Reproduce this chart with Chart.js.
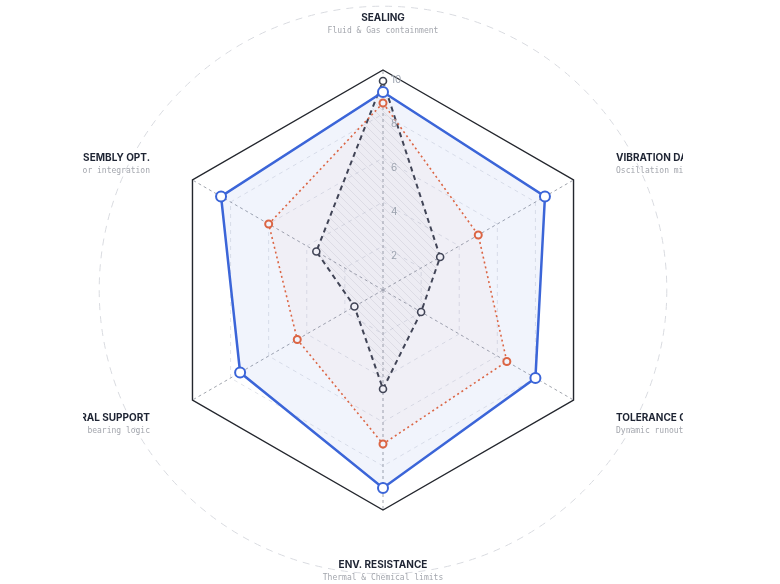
<!DOCTYPE html>
<html>
<head>
<meta charset="utf-8">
<script src="https://cdn.jsdelivr.net/npm/chart.js"></script>
<style>
  html, body { margin: 0; padding: 0; background: #fff; }
  #wrap { width: 780px; height: 584px; position: relative; }
</style>
</head>
<body>
<div id="wrap"><canvas id="radar"></canvas></div>
<script>
const categories = ["SEALING", "VIBRATION DAMPING", "TOLERANCE CONTROL", "ENV. RESISTANCE", "STRUCTURAL SUPPORT", "ASSEMBLY OPT."];
const subtitles = ["Fluid & Gas containment", "Oscillation mitigation", "Dynamic runout limits", "Thermal & Chemical limits", "Load bearing logic", "Sensor integration"];
const tickValues = [2, 4, 6, 8, 10];

const targetValues = [9, 8.5, 8, 9, 7.5, 8.5];
const currentValues = [8.5, 5, 6.5, 7, 4.5, 6];
const baselineValues = [9.5, 3, 2, 4.5, 1.5, 3.5];

// diagonal hatch for the baseline polygon
function makeHatch() {
  const c = document.createElement("canvas");
  c.width = 8; c.height = 8;
  const g = c.getContext("2d");
  g.fillStyle = "rgba(120,120,140,0.03)";
  g.fillRect(0, 0, 8, 8);
  g.strokeStyle = "rgba(150,150,165,0.25)";
  g.lineWidth = 0.7;
  g.beginPath();
  g.moveTo(0, 0); g.lineTo(8, 8);
  g.moveTo(-4, 4); g.lineTo(4, 12);
  g.moveTo(4, -4); g.lineTo(12, 4);
  g.stroke();
  return g.createPattern(c, "repeat");
}

const decor = {
  id: "decor",
  beforeDatasetsDraw(chart) {
    const s = chart.scales.r, ctx = chart.ctx;
    ctx.save();
    ctx.strokeStyle = "#d9dbe0";
    ctx.lineWidth = 1;
    ctx.setLineDash([7, 6]);
    ctx.beginPath();
    ctx.arc(s.xCenter, s.yCenter, s.drawingArea * 1.29, 0, Math.PI * 2);
    ctx.stroke();
    ctx.restore();
  },
  afterDatasetsDraw(chart) {
    const s = chart.scales.r, ctx = chart.ctx;
    ctx.save();
    // tick labels
    ctx.font = "10px Inter";
    ctx.fillStyle = "#9ca3af";
    ctx.textAlign = "left";
    ctx.textBaseline = "middle";
    tickValues.forEach(v => {
      const d = s.getDistanceFromCenterForValue(v);
      ctx.fillText(String(v), s.xCenter + 8, s.yCenter - d + 10);
    });
    // axis labels, clipped like the original
    ctx.beginPath();
    ctx.rect(83, 0, 600, chart.height);
    ctx.clip();
    categories.forEach((name, i) => {
      const p = s.getPointPosition(i, s.drawingArea * 1.2);
      let align = "center", x = p.x, y;
      if (i === 0) y = p.y - 8;
      else if (i === 3) y = p.y + 11;
      else {
        align = p.x > s.xCenter ? "left" : "right";
        x = s.xCenter + (p.x > s.xCenter ? 233 : -233);
        y = p.y < s.yCenter ? p.y : p.y - 4;
      }
      ctx.textAlign = align;
      ctx.font = "bold 10px Inter";
      ctx.fillStyle = "#1e2433";
      ctx.fillText(name, x, y);
      ctx.font = "8px 'DejaVu Sans Mono'";
      ctx.fillStyle = "#a3a6ad";
      ctx.fillText(subtitles[i], x, y + 13);
    });
    ctx.restore();
  }
};

new Chart(document.getElementById("radar"), {
  type: "radar",
  data: {
    labels: categories,
    datasets: [
      {
        label: "Target",
        data: targetValues,
        borderColor: "#3b65d8",
        backgroundColor: "rgba(59,101,216,0.07)",
        borderWidth: 2.5,
        fill: true,
        pointRadius: 5,
        pointBorderWidth: 2,
        pointBackgroundColor: "#fff",
        pointBorderColor: "#3b65d8"
      },
      {
        label: "Current",
        data: currentValues,
        borderColor: "#e8663a",
        backgroundColor: "rgba(232,102,58,0.03)",
        borderWidth: 1.6,
        borderDash: [2, 3],
        fill: true,
        pointRadius: 3.5,
        pointBorderWidth: 2,
        pointBackgroundColor: "#fff",
        pointBorderColor: "#e8663a"
      },
      {
        label: "Baseline",
        data: baselineValues,
        borderColor: "#3d424e",
        backgroundColor: makeHatch(),
        borderWidth: 2,
        borderDash: [5, 4],
        fill: true,
        pointRadius: 3.5,
        pointBorderWidth: 1.6,
        pointBackgroundColor: "#fff",
        pointBorderColor: "#3d424e"
      }
    ]
  },
  options: {
    responsive: true,
    maintainAspectRatio: false,
    animation: false,
    layout: { padding: { left: 163, right: 177, top: 70, bottom: 74 } },
    plugins: { legend: { display: false }, tooltip: { enabled: false } },
    elements: { line: { tension: 0 } },
    scales: {
      r: {
        min: 0,
        max: 10,
        ticks: { stepSize: 2, display: false },
        pointLabels: { display: false },
        angleLines: { color: "#a1a5ad", lineWidth: 1, borderDash: [3, 3] },
        grid: {
          color: c => (c.tick && c.tick.value === 10 ? "#23262d" : "#e3e5ea"),
          lineWidth: c => (c.tick && c.tick.value === 10 ? 1.4 : 1)
        },
        border: {
          dash: c => (c.tick && c.tick.value === 10 ? [] : [4, 4])
        }
      }
    }
  },
  plugins: [decor]
});
</script>
</body>
</html>
